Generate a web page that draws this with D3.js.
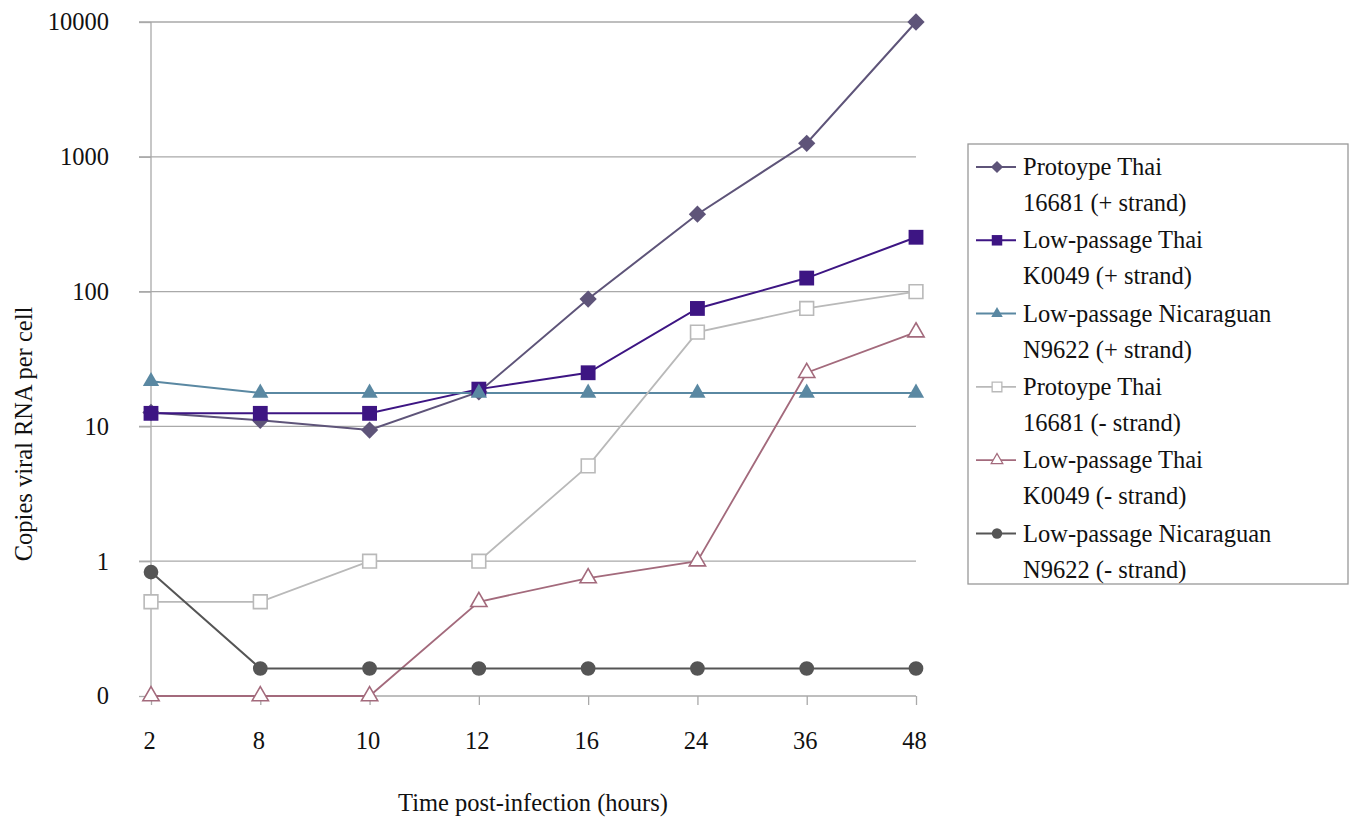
<!DOCTYPE html>
<html>
<head>
<meta charset="utf-8">
<script src="https://cdn.jsdelivr.net/npm/d3@7"></script>
<style>
  body { margin: 0; background: #fff; }
  text { font-family: "Liberation Serif", "DejaVu Serif", serif; fill: #111; }
</style>
</head>
<body>
<div class="canvas"></div>
<script>
const width = 1349;
const height = 827;
const margin = { top: 22, right: 433, bottom: 131, left: 151 };
const graphWidth = width - margin.left - margin.right;
const graphHeight = height - margin.top - margin.bottom;
const fontSize = "24.5px";

// data
const hours = ["2", "8", "10", "12", "16", "24", "36", "48"];
const yTicks = [0.1, 1, 10, 100, 1000, 10000];
const yTickLabels = ["0", "1", "10", "100", "1000", "10000"];

const thaiProtoPlus = [12.7, 11.1, 9.4, 18, 88, 375, 1260, 10000];
const thaiLowPlus = [12.5, 12.5, 12.5, 18.9, 25, 75, 126, 253];
const nicLowPlus = [21.6, 17.7, 17.7, 17.7, 17.7, 17.7, 17.7, 17.7];
const thaiProtoMinus = [0.5, 0.5, 1, 1, 5.1, 50, 75, 100];
const thaiLowMinus = [0.1, 0.1, 0.1, 0.5, 0.75, 1, 25, 50];
const nicLowMinus = [0.83, 0.16, 0.16, 0.16, 0.16, 0.16, 0.16, 0.16];

const seriesNames = [
  ["Protoype Thai", "16681 (+ strand)"],
  ["Low-passage Thai", "K0049 (+ strand)"],
  ["Low-passage Nicaraguan", "N9622 (+ strand)"],
  ["Protoype Thai", "16681 (- strand)"],
  ["Low-passage Thai", "K0049 (- strand)"],
  ["Low-passage Nicaraguan", "N9622 (- strand)"],
];

const series = [
  { values: thaiProtoPlus, color: "#5e5479", symbol: d3.symbolDiamond2, size: 190, fill: true, lw: 2 },
  { values: thaiLowPlus, color: "#3d1583", symbol: d3.symbolSquare2, size: 280, fill: true, lw: 2 },
  { values: nicLowPlus, color: "#5a88a2", symbol: d3.symbolTriangle2, size: 190, fill: true, lw: 2 },
  { values: thaiProtoMinus, color: "#b9b9b9", symbol: d3.symbolSquare2, size: 240, fill: false, lw: 1.8 },
  { values: thaiLowMinus, color: "#a36a7c", symbol: d3.symbolTriangle2, size: 190, fill: false, lw: 1.8 },
  { values: nicLowMinus, color: "#555555", symbol: d3.symbolCircle, size: 170, fill: true, lw: 2 },
];

const svg = d3
  .select(".canvas")
  .append("svg")
  .attr("width", width)
  .attr("height", height);

const graph = svg
  .append("g")
  .attr("transform", `translate(${margin.left}, ${margin.top})`);

const x = d3.scalePoint().domain(hours).range([0, graphWidth]).padding(0);
const y = d3.scaleLog().domain([0.1, 10000]).range([graphHeight, 0]);

// gridlines
graph
  .append("g")
  .selectAll("line")
  .data(yTicks.slice(1))
  .enter()
  .append("line")
  .attr("x1", -12)
  .attr("x2", graphWidth)
  .attr("y1", (d) => y(d))
  .attr("y2", (d) => y(d))
  .attr("stroke", "#a9a9a9")
  .attr("stroke-width", 1.3);

// y axis
const yAxisGroup = graph.append("g").attr("class", "y-axis");
yAxisGroup.call(
  d3
    .axisLeft(y)
    .tickValues(yTicks)
    .tickSize(12)
    .tickPadding(30)
    .tickFormat((d, i) => yTickLabels[i])
);
yAxisGroup.select(".domain").attr("stroke", "#a9a9a9").attr("stroke-width", 1.3).attr("d", `M0,${graphHeight}V0`);
yAxisGroup.selectAll(".tick line").attr("stroke", "#a9a9a9").attr("stroke-width", 1.3);
yAxisGroup.selectAll("text").style("font-size", fontSize).attr("fill", "#111");

// x axis
const xAxisGroup = graph
  .append("g")
  .attr("class", "x-axis")
  .attr("transform", `translate(0, ${graphHeight})`);
xAxisGroup.call(d3.axisBottom(x).tickSize(9).tickPadding(27));
xAxisGroup.select(".domain").attr("stroke", "#a9a9a9").attr("stroke-width", 1.3).attr("d", `M0,0H${graphWidth}`);
xAxisGroup.selectAll(".tick line").attr("stroke", "#a9a9a9").attr("stroke-width", 1.3);
xAxisGroup.selectAll("text").style("font-size", fontSize).attr("fill", "#111").attr("dx", -2);

// axis titles
svg
  .append("text")
  .attr("transform", "translate(32, 434) rotate(-90)")
  .attr("text-anchor", "middle")
  .style("font-size", fontSize)
  .text("Copies viral RNA per cell");

svg
  .append("text")
  .attr("x", 533)
  .attr("y", 811)
  .attr("text-anchor", "middle")
  .style("font-size", fontSize)
  .text("Time post-infection (hours)");

// lines + markers
const line = d3
  .line()
  .x((d, i) => x(hours[i]))
  .y((d) => y(d));

series.forEach((s) => {
  graph
    .append("path")
    .datum(s.values)
    .attr("fill", "none")
    .attr("stroke", s.color)
    .attr("stroke-width", s.lw)
    .attr("d", line);
});

series.forEach((s) => {
  graph
    .append("g")
    .selectAll("path")
    .data(s.values)
    .enter()
    .append("path")
    .attr("transform", (d, i) => `translate(${x(hours[i])}, ${y(d)})`)
    .attr("d", d3.symbol().type(s.symbol).size(s.size))
    .attr("fill", s.fill ? s.color : "#fff")
    .attr("stroke", s.color)
    .attr("stroke-width", s.fill ? 0 : 1.6);
});

// legend
const legend = svg.append("g").attr("transform", "translate(968, 144)");
legend
  .append("rect")
  .attr("width", 380)
  .attr("height", 440)
  .attr("fill", "#fff")
  .attr("stroke", "#999")
  .attr("stroke-width", 1.3);

const items = legend
  .selectAll(".item")
  .data(series)
  .enter()
  .append("g")
  .attr("class", "item")
  .attr("transform", (d, i) => `translate(0, ${23 + i * 73.3})`);

items
  .append("line")
  .attr("x1", 8)
  .attr("x2", 48)
  .attr("stroke", (d) => d.color)
  .attr("stroke-width", (d) => d.lw);

items
  .append("path")
  .attr("transform", "translate(29, 0)")
  .attr("d", (d) => d3.symbol().type(d.symbol).size(d.size * 0.5)())
  .attr("fill", (d) => (d.fill ? d.color : "#fff"))
  .attr("stroke", (d) => d.color)
  .attr("stroke-width", (d) => (d.fill ? 0 : 1.3));

items
  .append("text")
  .attr("x", 55)
  .attr("y", 8)
  .style("font-size", fontSize)
  .text((d, i) => seriesNames[i][0]);

items
  .append("text")
  .attr("x", 55)
  .attr("y", 44)
  .style("font-size", fontSize)
  .text((d, i) => seriesNames[i][1]);
</script>
</body>
</html>
